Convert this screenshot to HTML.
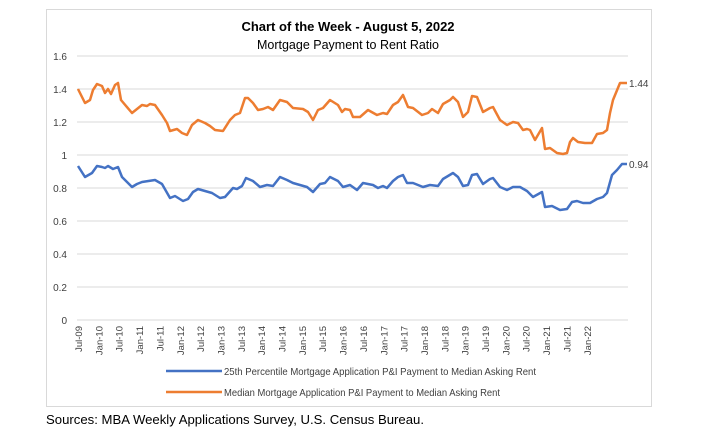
<!DOCTYPE html>
<html><head><meta charset="utf-8"><style>
body{margin:0;background:#fff;width:712px;height:434px;overflow:hidden;font-family:"Liberation Sans",sans-serif}
</style></head><body>
<svg width="712" height="434" viewBox="0 0 712 434" xmlns="http://www.w3.org/2000/svg" font-family="Liberation Sans, sans-serif">
<rect x="46.5" y="9.5" width="605" height="397" fill="#fff" stroke="#d9d9d9"/>
<text x="348" y="31" text-anchor="middle" font-size="13" font-weight="bold" fill="#000">Chart of the Week - August 5, 2022</text>
<text x="348" y="49" text-anchor="middle" font-size="12.5" fill="#000">Mortgage Payment to Rent Ratio</text>
<g stroke="#d9d9d9" stroke-width="1">
<line x1="77" x2="628" y1="56" y2="56"/><line x1="77" x2="628" y1="89" y2="89"/><line x1="77" x2="628" y1="122" y2="122"/><line x1="77" x2="628" y1="155" y2="155"/><line x1="77" x2="628" y1="188" y2="188"/><line x1="77" x2="628" y1="221" y2="221"/><line x1="77" x2="628" y1="254" y2="254"/><line x1="77" x2="628" y1="287" y2="287"/><line x1="77" x2="628" y1="320" y2="320"/>
</g>
<g font-size="10" fill="#404040" text-anchor="end">
<text x="67" y="60">1.6</text><text x="67" y="93">1.4</text><text x="67" y="126">1.2</text><text x="67" y="159">1</text><text x="67" y="192">0.8</text><text x="67" y="225">0.6</text><text x="67" y="258">0.4</text><text x="67" y="291">0.2</text><text x="67" y="324">0</text>
</g>
<g font-size="9.5" fill="#404040" text-anchor="end">
<text transform="translate(82,326) rotate(-90)">Jul-09</text>
<text transform="translate(102.4,326) rotate(-90)">Jan-10</text>
<text transform="translate(122.7,326) rotate(-90)">Jul-10</text>
<text transform="translate(143.1,326) rotate(-90)">Jan-11</text>
<text transform="translate(163.4,326) rotate(-90)">Jul-11</text>
<text transform="translate(183.8,326) rotate(-90)">Jan-12</text>
<text transform="translate(204.1,326) rotate(-90)">Jul-12</text>
<text transform="translate(224.5,326) rotate(-90)">Jan-13</text>
<text transform="translate(244.8,326) rotate(-90)">Jul-13</text>
<text transform="translate(265.2,326) rotate(-90)">Jan-14</text>
<text transform="translate(285.5,326) rotate(-90)">Jul-14</text>
<text transform="translate(305.9,326) rotate(-90)">Jan-15</text>
<text transform="translate(326.2,326) rotate(-90)">Jul-15</text>
<text transform="translate(346.6,326) rotate(-90)">Jan-16</text>
<text transform="translate(366.9,326) rotate(-90)">Jul-16</text>
<text transform="translate(387.3,326) rotate(-90)">Jan-17</text>
<text transform="translate(407.6,326) rotate(-90)">Jul-17</text>
<text transform="translate(428,326) rotate(-90)">Jan-18</text>
<text transform="translate(448.3,326) rotate(-90)">Jul-18</text>
<text transform="translate(468.7,326) rotate(-90)">Jan-19</text>
<text transform="translate(489,326) rotate(-90)">Jul-19</text>
<text transform="translate(509.4,326) rotate(-90)">Jan-20</text>
<text transform="translate(529.7,326) rotate(-90)">Jul-20</text>
<text transform="translate(550.1,326) rotate(-90)">Jan-21</text>
<text transform="translate(570.4,326) rotate(-90)">Jul-21</text>
<text transform="translate(590.8,326) rotate(-90)">Jan-22</text>
</g>
<polyline fill="none" stroke="#ED7D31" stroke-width="2.5" stroke-linejoin="round" points="78,89 85,103 90,100 93,90 97,84 102,86 105,93 108,89 111,94 115,85 118,83 121,100 132,113 137,109 142,105 147,106 150,104 155,105 162,115 167,123 170,131 177,129 182,133 187,135 192,125 198,120 205,123 210,126 215,130 223,131 230,120 235,115 240,113 245,98 248,98 253,103 258,110 263,109 268,107 273,110 280,100 287,102 293,108 303,109 308,112 313,120 318,110 323,108 330,100 338,105 342,112 345,109 350,110 353,117 360,117 368,110 377,115 383,113 387,114 393,105 398,102 403,95 408,107 413,108 422,115 428,113 432,109 438,113 443,104 450,100 453,97 458,102 463,117 468,112 472,96 477,97 483,112 490,108 493,107 500,120 507,125 513,122 518,123 523,130 527,129 530,130 535,140 542,128 545,149 550,148 557,153 563,154 567,153 570,142 573,138 578,142 585,143 592,143 597,134 603,133 607,130 610,113 613,100 620,83 627,83"/>
<polyline fill="none" stroke="#4472C4" stroke-width="2.5" stroke-linejoin="round" points="78,166 85,177 92,173 97,166 102,167 105,168 108,166 113,169 118,167 122,177 132,187 137,184 142,182 155,180 162,184 170,198 175,196 183,201 188,199 193,192 198,189 205,191 212,193 220,198 225,197 233,188 237,189 242,186 246,178 253,181 260,187 267,185 273,186 280,177 287,180 293,183 307,187 313,192 320,184 325,183 330,177 338,181 343,187 350,185 357,190 363,183 373,185 378,188 383,186 387,188 393,181 398,177 403,175 407,183 413,183 423,187 430,185 438,186 443,179 453,173 458,177 463,186 468,185 472,175 477,174 483,184 490,179 493,178 500,187 507,190 513,187 520,187 527,191 533,197 542,192 545,207 552,206 560,210 567,209 572,202 577,201 583,203 590,203 597,199 603,197 607,193 612,175 617,170 622,164 627,164"/>
<text x="629" y="87" font-size="10" fill="#404040">1.44</text>
<text x="629" y="168" font-size="10" fill="#404040">0.94</text>
<line x1="166" x2="222" y1="371" y2="371" stroke="#4472C4" stroke-width="2.5"/>
<text x="224" y="375" font-size="10.5" fill="#404040" textLength="312" lengthAdjust="spacingAndGlyphs">25th Percentile Mortgage Application P&amp;I Payment to Median Asking Rent</text>
<line x1="166" x2="222" y1="392" y2="392" stroke="#ED7D31" stroke-width="2.5"/>
<text x="224" y="396" font-size="10.5" fill="#404040" textLength="276" lengthAdjust="spacingAndGlyphs">Median Mortgage Application P&amp;I Payment to Median Asking Rent</text>
<text x="46" y="424" font-size="13" fill="#000" textLength="378" lengthAdjust="spacingAndGlyphs">Sources: MBA Weekly Applications Survey, U.S. Census Bureau.</text>
</svg>
</body></html>
